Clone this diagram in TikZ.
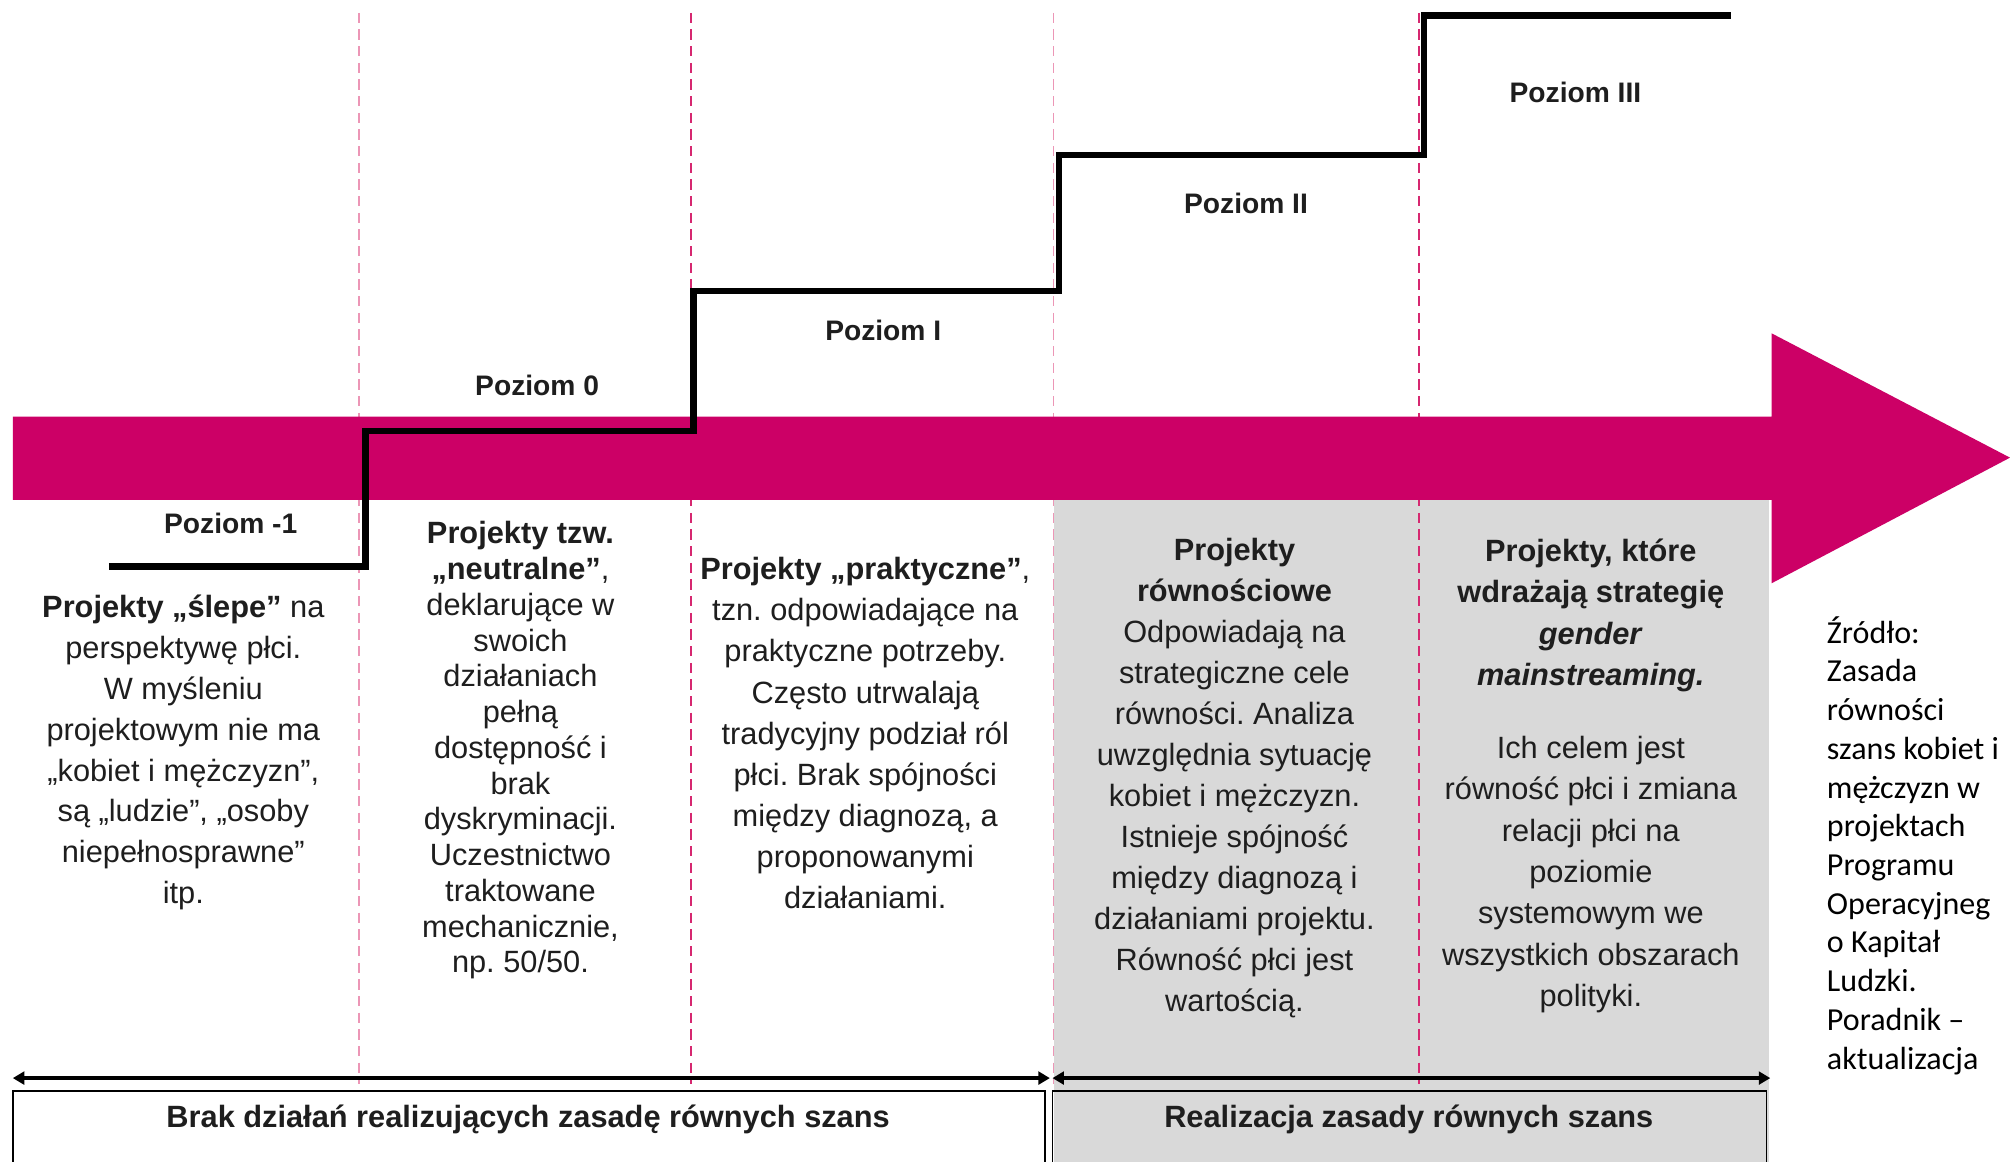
\documentclass[tikz,border=0pt]{standalone}
\usepackage{fontspec}
\setmainfont{Liberation Sans}
\newfontfamily\srcfont{Carlito}
\usetikzlibrary{arrows.meta}
\frenchspacing
\definecolor{barcol}{RGB}{204,0,102}
\definecolor{dashA}{RGB}{236,150,182}
\definecolor{dashB}{RGB}{214,40,112}
\definecolor{txt}{RGB}{30,30,30}
\definecolor{greyfill}{RGB}{217,217,217}
\begin{document}
\begin{tikzpicture}[x=1pt,y=-1pt,
  lvl/.style={font=\fontsize{22}{26}\selectfont\bfseries, text=txt, inner sep=0pt},
  colbody/.style={font=\fontsize{24}{31.9}\selectfont, text=txt, align=center, inner sep=0pt, anchor=base},
  divider/.style={dash pattern=on 8pt off 5pt, line width=1.1pt},
  stair/.style={line width=5pt, line join=miter},
  spanarrow/.style={line width=3pt, {Triangle[length=9pt,width=10pt]}-{Triangle[length=9pt,width=10pt]}},
  boxlbl/.style={font=\fontsize{24}{28}\selectfont\bfseries, text=txt, inner sep=0pt},
  boxframe/.style={draw=black, line width=1.3pt},
  srcstyle/.style={font=\srcfont\fontsize{25}{30.2}\selectfont, align=left, anchor=base west, inner sep=0pt}
]
\useasboundingbox[fill=white] (0,0) rectangle (1568,906);

% gray region
\fill[greyfill] (822,390) rectangle (1380,912);

% dashed dividers
\coordinate (d1t) at (280,10);  \coordinate (d1b) at (280,846);
\coordinate (d2t) at (539,10);  \coordinate (d2b) at (539,846);
\coordinate (d3t) at (822,10);  \coordinate (d3b) at (822,846);
\coordinate (d4t) at (1107,10); \coordinate (d4b) at (1107,846);
\draw[divider, dashA] (d1t) -- (d1b);
\draw[divider, dashB] (d2t) -- (d2b);
\draw[divider, dashA] (d3t) -- (d3b);
\draw[divider, dashB] (d4t) -- (d4b);

% big magenta arrow
\fill[barcol] (10,325) -- (1382,325) -- (1382,260) -- (1568,357) -- (1382,455) -- (1382,390) -- (10,390) -- cycle;

% staircase
\coordinate (s0) at (85,442);
\coordinate (s1) at (285,442);
\coordinate (s2) at (285,336);
\coordinate (s3) at (541,336);
\coordinate (s4) at (541,227);
\coordinate (s5) at (826,227);
\coordinate (s6) at (826,121);
\coordinate (s7) at (1111,121);
\coordinate (s8) at (1111,12);
\coordinate (s9) at (1350,12);
\draw[stair] (s0) -- (s1) -- (s2) -- (s3) -- (s4) -- (s5) -- (s6) -- (s7) -- (s8) -- (s9);

% level labels
\node[lvl] (pm1) at (180,408) {Poziom -1};
\node[lvl] (p0) at (419,301) {Poziom 0};
\node[lvl] (p1) at (689,258) {Poziom I};
\node[lvl] (p2) at (972,159) {Poziom II};
\node[lvl] (p3) at (1229,72) {Poziom III};

% column texts (base anchor = baseline of last line)
\node[colbody] (c1) at (143,705) {\textbf{Projekty „ślepe”} na\\perspektywę płci.\\W myśleniu\\projektowym nie ma\\„kobiet i mężczyzn”,\\są „ludzie”, „osoby\\niepełnosprawne”\\itp.};
\node[colbody, font=\fontsize{24}{27.9}\selectfont] (c2) at (406,759) {\textbf{Projekty tzw.}\\\textbf{„neutralne”},\\deklarujące w\\swoich\\działaniach\\pełną\\dostępność i\\brak\\dyskryminacji.\\Uczestnictwo\\traktowane\\mechanicznie,\\np. 50/50.};
\node[colbody, font=\fontsize{24}{32.1}\selectfont] (c3) at (675,709) {\textbf{Projekty „praktyczne”},\\tzn. odpowiadające na\\praktyczne potrzeby.\\Często utrwalają\\tradycyjny podział ról\\płci. Brak spójności\\między diagnozą, a\\proponowanymi\\działaniami.};
\node[colbody, font=\fontsize{24}{32}\selectfont] (c4) at (963,789) {\textbf{Projekty}\\\textbf{równościowe}\\Odpowiadają na\\strategiczne cele\\równości. Analiza\\uwzględnia sytuację\\kobiet i mężczyzn.\\Istnieje spójność\\między diagnozą i\\działaniami projektu.\\Równość płci jest\\wartością.};
\node[colbody, font=\fontsize{24}{32.2}\selectfont] (c5) at (1241,785) {\textbf{Projekty, które}\\\textbf{wdrażają strategię}\\\textbf{\textit{gender}}\\\textbf{\textit{mainstreaming.}}\\[25pt]Ich celem jest\\równość płci i zmiana\\relacji płci na\\poziomie\\systemowym we\\wszystkich obszarach\\polityki.};

% span arrows
\coordinate (a1l) at (10,841);
\coordinate (a1r) at (819,841);
\coordinate (a2l) at (821,841);
\coordinate (a2r) at (1381,841);
\draw[spanarrow] (a1l) -- (a1r);
\draw[spanarrow] (a2l) -- (a2r);

% bottom boxes
\draw[boxframe] (10,912) -- (10,851) -- (815,851) -- (815,912);
\draw[boxframe] (821,912) -- (821,851) -- (1378,851) -- (1378,912);
\node[boxlbl] (b1) at (412,873) {Brak działań realizujących zasadę równych szans};
\node[boxlbl] (b2) at (1099,873) {Realizacja zasady równych szans};

% source
\node[srcstyle] (src) at (1425,834) {Źródło:\\Zasada\\równości\\szans kobiet i\\mężczyzn w\\projektach\\Programu\\Operacyjneg\\o Kapitał\\Ludzki.\\Poradnik –\\aktualizacja};
\end{tikzpicture}
\end{document}
